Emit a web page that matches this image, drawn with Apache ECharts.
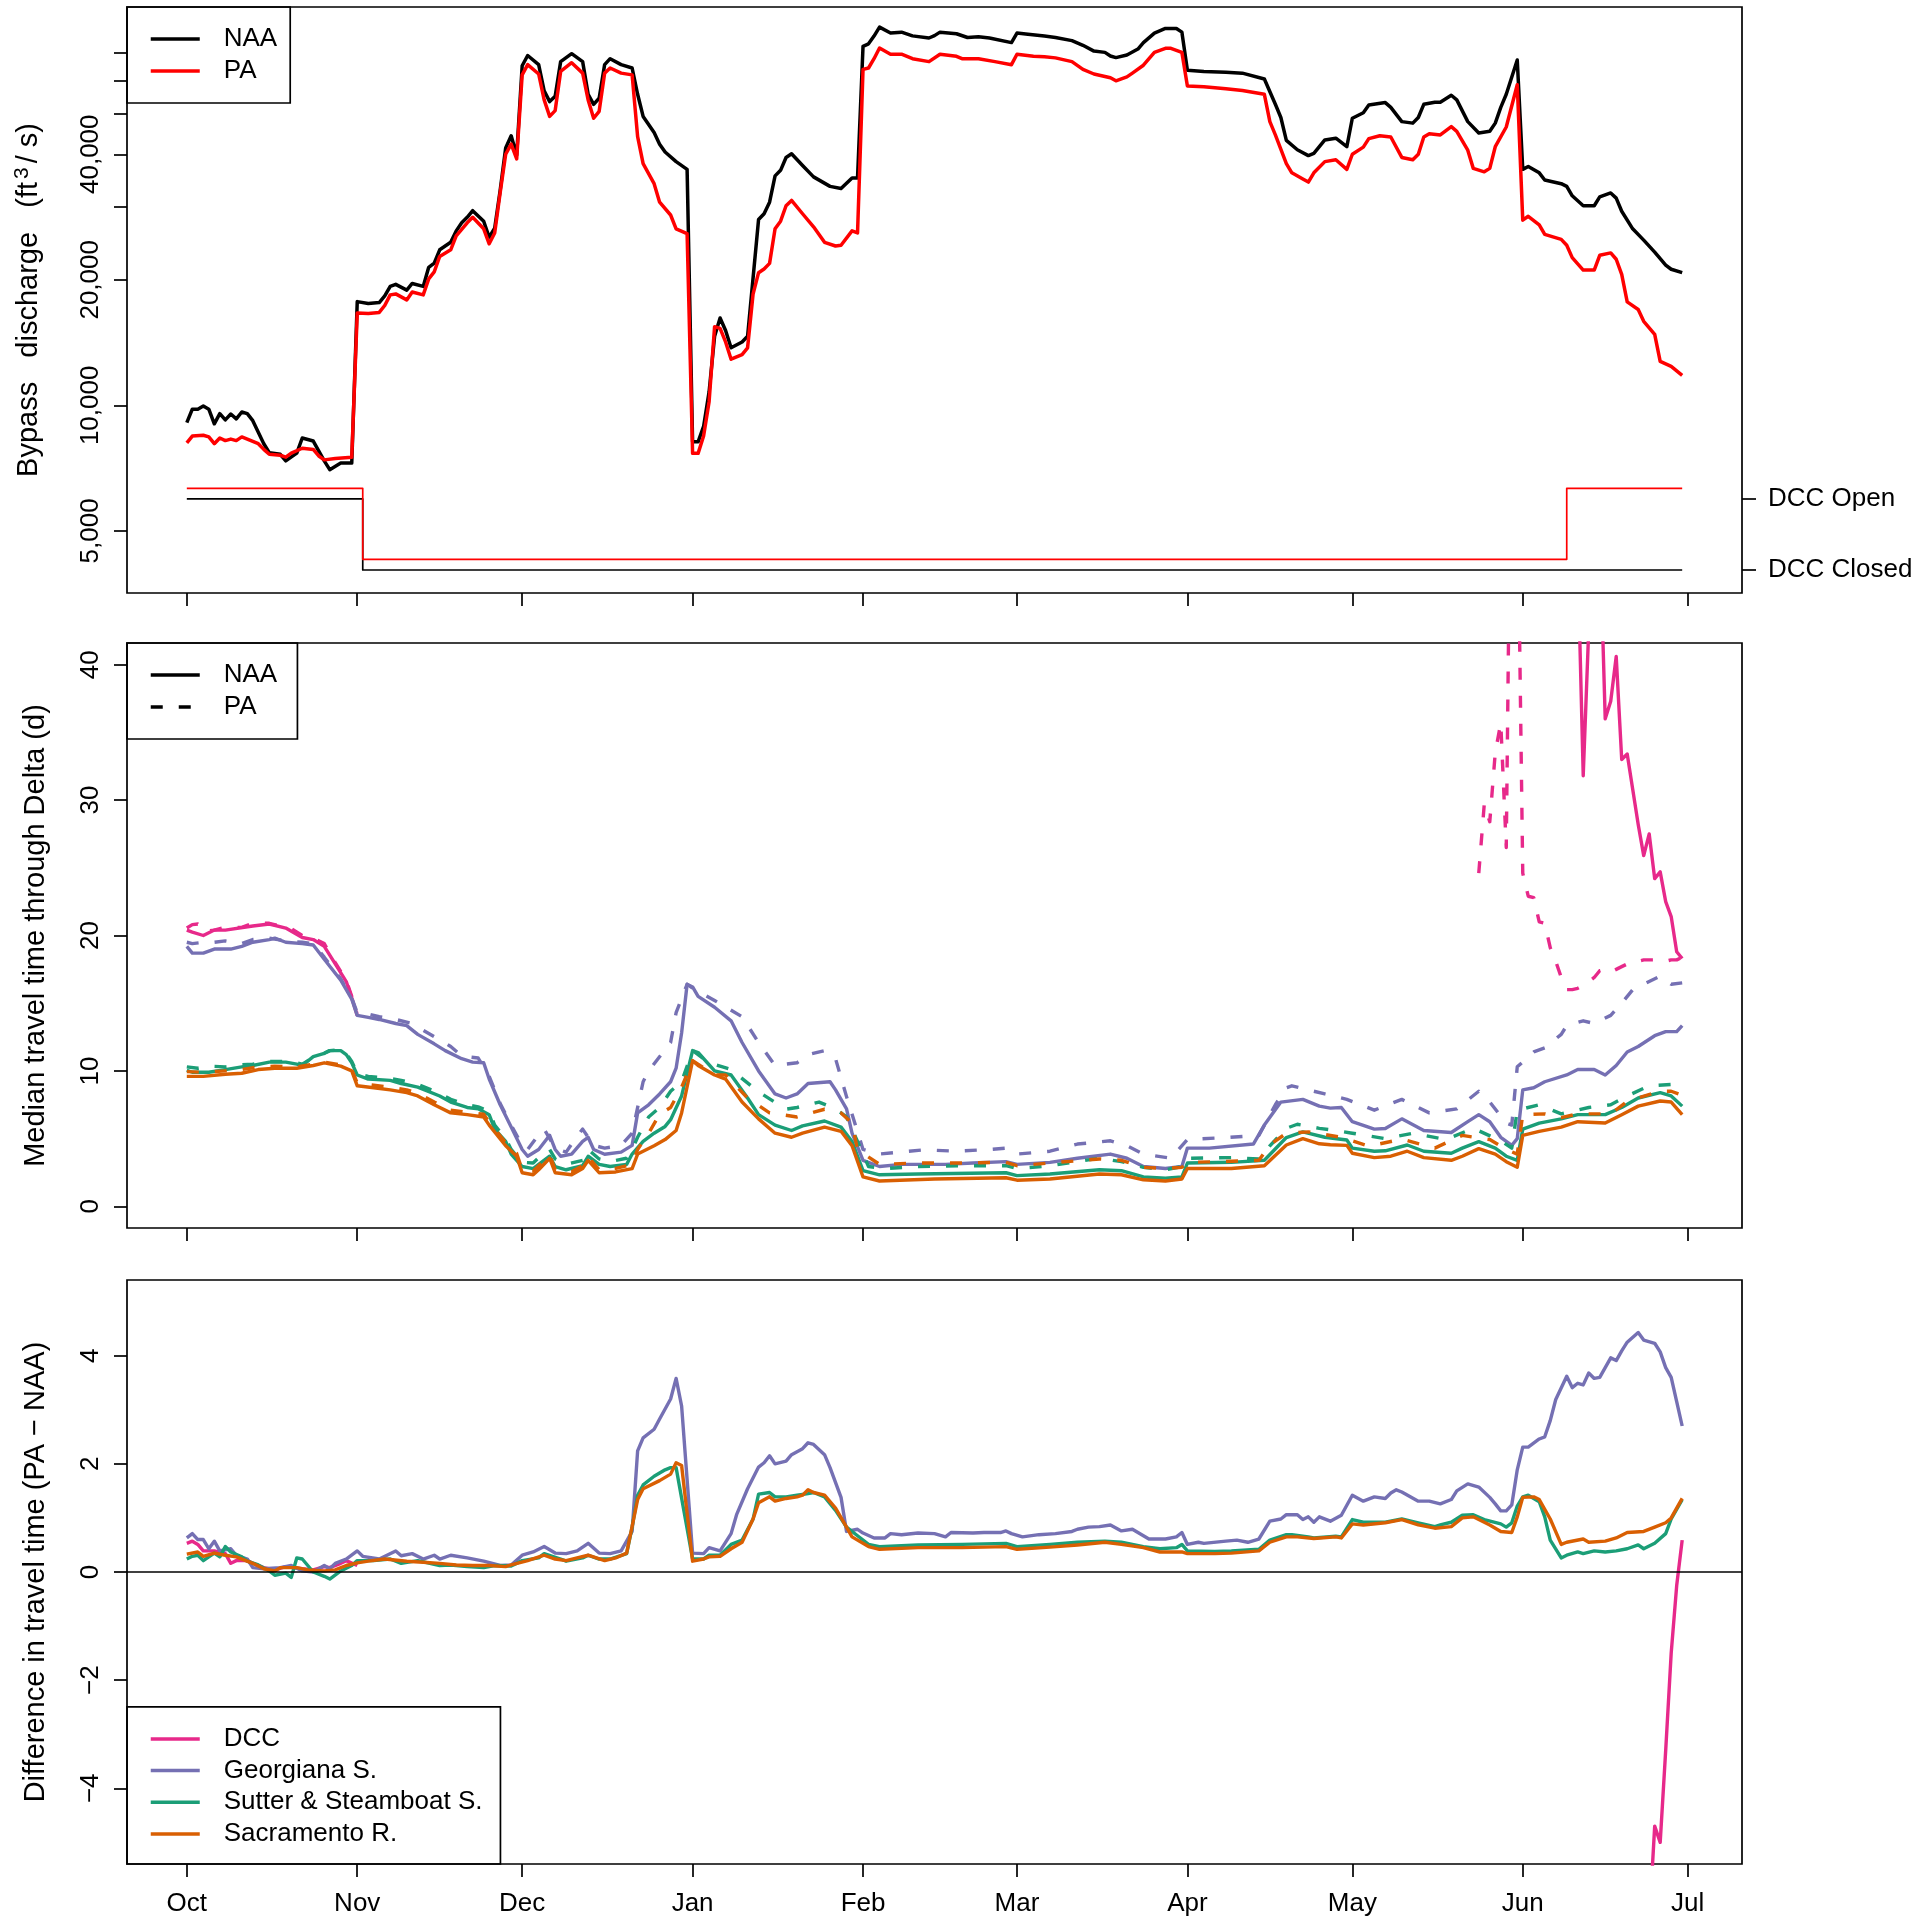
<!DOCTYPE html>
<html>
<head>
<meta charset="utf-8">
<script src="https://cdn.jsdelivr.net/npm/echarts@6/dist/echarts.min.js"></script>
<style>
html,body{margin:0;padding:0;background:#fff;}
#chart{width:1920px;height:1921px;}
</style>
</head>
<body>
<div id="chart"></div>
<script>
// ---------- axis ticks / labels ----------
const monthDays = [0, 31, 61, 92, 123, 151, 182, 212, 243, 273];
const monthLabels = ['Oct', 'Nov', 'Dec', 'Jan', 'Feb', 'Mar', 'Apr', 'May', 'Jun', 'Jul'];
const flowTicks = [5000, 10000, 20000, 30000, 40000, 50000, 60000, 70000];
const flowTickLabels = [5000, 10000, 20000, 40000];
const dccTicks = [0, 1];
const dccTickLabels = ['DCC Closed', 'DCC Open'];
const ttTicks = [0, 10, 20, 30, 40];
const diffTicks = [-4, -2, 0, 2, 4];

// ---------- panel 1: bypass discharge (day since Oct 1, ft3/s) ----------
const flowNAA = [[0,9090],[1,9790],[2,9790],[3,9960],[4,9790],[5,9030],[6,9550],[7,9230],[8,9530],[9,9280],[10,9640],[11,9550],[12,9190],[13,8620],[14,8090],[15,7700],[17,7630],[18,7360],[20,7680],[21,8350],[23,8210],[25,7360],[26,7010],[28,7270],[30,7270],[31,17730],[33,17540],[35,17640],[36,18290],[37,19280],[38,19500],[40,18890],[41,19600],[43,19280],[44,21430],[45,21920],[46,23600],[48,24600],[49,26200],[50,27400],[51,28240],[52,29290],[54,27640],[55,25300],[56,26600],[57,32800],[58,41400],[59,44300],[60,39800],[61,65200],[62,69000],[64,65600],[65,56800],[66,53500],[67,55100],[68,66700],[70,69700],[72,66700],[73,55700],[74,52700],[75,54500],[76,65600],[77,67800],[79,65600],[81,64400],[82,55700],[83,49300],[85,45100],[86,42300],[87,40500],[89,38400],[91,36800],[92,8175],[93,8175],[94,8900],[95,10770],[96,14640],[97,16200],[98,15110],[99,13740],[101,14190],[102,14640],[104,27900],[105,28800],[106,30700],[107,35500],[108,36600],[109,39300],[110,40100],[112,37600],[114,35300],[117,33500],[119,33100],[121,35100],[122,35100],[123,72600],[124,73600],[125,76800],[126,80700],[128,78100],[130,78500],[132,76900],[135,76000],[136,77000],[137,78500],[140,77800],[142,76200],[144,76500],[146,76000],[150,74100],[151,78100],[153,77600],[156,76800],[158,76200],[161,74900],[163,73000],[165,70700],[167,70200],[168,68800],[169,68200],[171,69200],[173,71500],[174,74100],[176,78100],[178,80100],[180,80100],[181,78500],[182,63600],[185,63200],[189,62900],[192,62600],[196,60600],[198,52700],[199,49000],[200,43200],[202,41000],[204,39700],[205,40200],[207,43300],[209,43700],[211,41700],[212,48800],[214,50300],[215,52500],[218,53200],[219,51800],[221,47900],[223,47500],[224,49000],[225,52700],[227,53300],[228,53300],[230,55400],[231,54000],[233,47900],[235,45000],[237,45400],[238,47500],[239,51800],[240,55700],[242,67300],[243,36800],[244,37400],[246,36100],[247,34700],[250,34000],[251,33500],[252,31800],[254,30100],[256,30100],[257,31600],[259,32300],[260,31400],[261,29200],[263,26500],[265,24900],[267,23300],[269,21700],[270,21200],[272,20800]];
const flowPA = [[0,8125],[1,8440],[3,8475],[4,8400],[5,8090],[6,8350],[7,8230],[8,8300],[9,8230],[10,8400],[11,8300],[13,8090],[14,7840],[15,7630],[17,7590],[18,7510],[19,7680],[21,7890],[23,7840],[24,7560],[25,7400],[27,7460],[30,7510],[31,16640],[33,16600],[35,16700],[36,17350],[37,18400],[38,18500],[40,17900],[41,18700],[43,18400],[44,20100],[45,20900],[46,22750],[48,23600],[49,25500],[51,27400],[52,28240],[54,26500],[55,24400],[56,25900],[57,32400],[58,40000],[59,42300],[60,39000],[61,62000],[62,65600],[64,62300],[65,54000],[66,49300],[67,50900],[68,63200],[70,66300],[72,62600],[73,54000],[74,48800],[75,50700],[76,62600],[77,64400],[79,62600],[81,62000],[82,44100],[83,38000],[85,34000],[86,30700],[88,28600],[89,26500],[91,25800],[92,7670],[93,7670],[94,8440],[95,10200],[96,15440],[97,15290],[98,14190],[99,12900],[101,13230],[102,13740],[103,18490],[104,20800],[105,21230],[106,21900],[107,26500],[108,27640],[109,30100],[110,31000],[112,28800],[114,26800],[116,24600],[118,24100],[119,24200],[121,26200],[122,25900],[123,63900],[124,64400],[125,67800],[126,71900],[128,69500],[130,69500],[132,67800],[135,66700],[137,69500],[140,68700],[141,67800],[144,67800],[147,66700],[150,65600],[151,69500],[154,68700],[156,68500],[158,68100],[161,66700],[163,63900],[165,62300],[168,61000],[169,60000],[171,61300],[172,62600],[174,65400],[176,70200],[178,71800],[179,71800],[181,70200],[182,58300],[185,58100],[189,57400],[192,56900],[196,55700],[197,47900],[198,44500],[200,38000],[201,36100],[203,34900],[204,34300],[205,36100],[207,38400],[209,38800],[211,36800],[212,40000],[214,41600],[215,43600],[217,44300],[219,44000],[221,39300],[223,38800],[224,40000],[225,44000],[226,44800],[228,44500],[230,46600],[231,45400],[233,40900],[234,37000],[236,36300],[237,37000],[238,41700],[240,46500],[242,58700],[243,27800],[244,28400],[246,27100],[247,25700],[250,25000],[251,24200],[252,22600],[254,21100],[256,21100],[257,22900],[259,23200],[260,22400],[261,20600],[262,17700],[264,16980],[265,15900],[267,14800],[268,12750],[270,12400],[272,11800]];
// DCC gate status (1 = open, 0 = closed), step changes
const dccNAA = [[0,1],[32,0],[272,0]];
const dccPA = [[0,1],[32,0],[251,1],[272,1]];

// ---------- panel 2: median travel time (d) ----------
const ttDccNaaOct = [[0,20.4],[1,20.25],[3,20.0],[5,20.4],[7,20.4],[12,20.7],[15,20.85],[18,20.55],[21,19.85],[23,19.7],[25,19.2],[27,17.9],[29,16.6],[30,15.4],[31,14.1]];
const ttDccNaaJun = [[253,48],[254,31.8],[255,42.6],[256,50],[257,49.9],[258,36.0],[259,37.3],[260,40.6],[261,33.0],[262,33.4],[263,30.8],[264,28.2],[265,25.9],[266,27.5],[267,24.2],[268,24.7],[269,22.5],[270,21.4],[271,18.8],[272,18.3]];
const ttDccPaOct = [[0,20.55],[1,20.8],[2,20.85],[3,20.3],[5,20.4],[7,20.6],[10,20.6],[12,20.9],[15,20.9],[17,20.7],[19,20.5],[21,20.0],[23,19.8],[25,19.4],[27,18.0],[29,16.7],[31,14.3]];
const ttDccPaJun = [[235,24.6],[236,29.7],[237,28.4],[238,33.5],[239,35.7],[240,26.5],[241,64],[242,55],[243,24.6],[244,22.9],[245,22.8],[246,21.0],[247,20.9],[248,19.1],[249,18.1],[250,16.9],[251,16.0],[252,16.0],[253,16.1],[254,16.3],[255,16.6],[256,16.9],[257,17.4],[258,17.5],[259,17.3],[260,17.5],[261,17.7],[262,17.9],[263,18.1],[264,18.1],[265,18.2],[266,18.2],[267,18.2],[268,18.1],[269,18.1],[270,18.2],[271,18.2],[272,18.4]];
const ttGeoNaa = [[0,19.2],[1,18.7],[3,18.7],[5,19.0],[8,19.0],[10,19.2],[12,19.5],[15,19.7],[16,19.8],[18,19.5],[21,19.4],[23,19.3],[25,18.25],[28,16.7],[30,15.3],[31,14.1],[33,13.95],[35,13.8],[38,13.5],[40,13.35],[42,12.7],[45,12.0],[47,11.5],[50,10.9],[52,10.65],[54,10.6],[55,9.4],[57,7.5],[59,5.85],[61,4.2],[62,3.7],[64,4.2],[66,5.25],[67,4.2],[68,3.7],[70,3.85],[72,4.8],[73,5.1],[74,4.2],[76,3.85],[79,4.0],[81,4.5],[82,6.9],[84,7.5],[86,8.3],[88,9.2],[89,10.2],[90,12.8],[91,16.4],[92,16.2],[93,15.5],[96,14.7],[99,13.7],[101,12.1],[104,10.0],[107,8.3],[109,8.0],[111,8.3],[113,9.07],[117,9.2],[118,8.6],[120,7.2],[121,5.4],[123,3.4],[126,2.94],[130,3.1],[138,3.1],[143,3.2],[149,3.3],[151,3.1],[157,3.25],[162,3.55],[168,3.86],[171,3.55],[174,2.94],[178,2.79],[181,2.94],[182,4.3],[186,4.3],[194,4.6],[196,6.0],[199,7.7],[203,7.9],[206,7.4],[208,7.25],[210,7.3],[212,6.25],[216,5.7],[218,5.75],[221,6.46],[225,5.6],[230,5.45],[233,6.25],[235,6.77],[237,6.25],[239,5.1],[241,4.5],[242,5.0],[243,8.6],[245,8.76],[247,9.2],[251,9.7],[253,10.1],[256,10.1],[258,9.7],[260,10.4],[262,11.4],[264,11.8],[267,12.6],[269,12.9],[271,12.9],[272,13.35]];
const ttGeoPa = [[0,19.5],[1,19.4],[3,19.5],[5,19.5],[7,19.6],[10,19.4],[12,19.7],[15,19.8],[18,19.6],[21,19.5],[23,19.4],[25,18.4],[28,16.8],[30,15.4],[31,14.3],[33,14.2],[35,14.0],[38,13.8],[41,13.5],[43,13.0],[46,12.3],[48,11.8],[50,11.1],[53,10.95],[55,9.6],[57,7.6],[59,6.0],[61,4.5],[62,4.2],[64,5.3],[65,5.7],[67,4.3],[69,4.0],[71,5.2],[72,5.7],[74,4.5],[76,4.3],[79,4.5],[81,5.4],[83,9.2],[84,10.0],[88,12.1],[89,14.3],[91,16.4],[92,16.1],[96,15.2],[101,14.0],[104,12.1],[107,10.4],[111,10.6],[113,11.2],[116,11.5],[118,10.9],[120,8.1],[123,4.2],[126,3.86],[134,4.17],[140,4.07],[146,4.2],[149,4.3],[151,3.86],[157,4.07],[162,4.6],[168,4.84],[171,4.47],[174,3.86],[179,3.55],[182,4.93],[189,5.08],[195,5.24],[198,7.5],[200,8.76],[201,8.9],[204,8.6],[207,8.3],[211,7.9],[216,7.1],[221,7.9],[226,6.9],[231,7.2],[235,8.5],[237,7.7],[240,6.15],[241,6.0],[242,10.3],[245,11.4],[247,11.7],[250,12.7],[251,13.35],[254,13.7],[256,13.5],[259,14.1],[261,15.0],[263,16.0],[265,16.4],[268,17.0],[270,16.4],[272,16.5]];
const ttSutNaa = [[0,10.05],[1,9.9],[4,9.9],[7,10.1],[10,10.3],[12,10.4],[15,10.65],[18,10.65],[20,10.5],[21,10.4],[23,11.05],[25,11.3],[26,11.5],[28,11.5],[29,11.2],[30,10.6],[31,9.7],[33,9.4],[37,9.3],[39,9.07],[42,8.8],[46,8.15],[48,7.7],[51,7.3],[53,7.2],[55,6.77],[56,5.7],[58,4.8],[59,3.86],[61,2.94],[63,2.79],[64,3.1],[66,3.7],[67,2.94],[69,2.7],[72,3.0],[73,3.7],[75,3.1],[77,2.94],[80,3.1],[81,3.86],[83,4.8],[85,5.4],[87,5.9],[88,6.4],[90,8.15],[92,11.5],[93,11.36],[96,10.0],[99,9.7],[102,8.0],[104,6.77],[107,6.0],[110,5.6],[112,5.94],[116,6.3],[119,5.85],[121,4.78],[123,2.63],[126,2.33],[133,2.39],[149,2.48],[151,2.27],[157,2.39],[166,2.7],[170,2.63],[174,2.17],[178,2.08],[181,2.17],[182,3.2],[190,3.25],[196,3.4],[200,5.08],[203,5.5],[207,5.1],[211,4.9],[212,4.3],[216,4.07],[218,4.1],[222,4.53],[225,4.07],[230,3.92],[232,4.3],[235,4.78],[238,4.3],[240,3.7],[242,3.4],[243,5.7],[246,6.15],[250,6.46],[253,6.77],[258,6.77],[261,7.3],[264,8.0],[268,8.4],[270,8.15],[272,7.4]];
const ttSutPa = [[0,10.3],[2,10.2],[4,10.35],[7,10.3],[10,10.45],[12,10.5],[15,10.7],[18,10.7],[20,10.6],[21,10.5],[23,11.0],[25,11.3],[26,11.5],[28,11.55],[29,11.3],[30,10.7],[31,9.8],[33,9.6],[37,9.45],[39,9.3],[42,9.0],[46,8.35],[48,7.9],[51,7.5],[53,7.35],[55,7.0],[56,6.0],[58,5.0],[59,4.2],[61,3.25],[63,3.2],[65,4.0],[66,4.2],[67,3.5],[69,3.1],[72,3.4],[73,4.2],[75,3.5],[77,3.3],[80,3.55],[81,4.2],[82,5.1],[84,6.6],[86,7.3],[88,8.5],[90,9.2],[92,11.5],[95,10.6],[99,10.1],[104,8.45],[109,7.17],[111,7.3],[115,7.7],[118,7.2],[120,6.6],[122,4.8],[124,2.94],[127,2.79],[133,2.94],[141,3.0],[149,3.0],[151,2.79],[157,3.0],[166,3.55],[170,3.3],[174,2.88],[178,2.7],[181,2.94],[182,3.55],[190,3.6],[195,3.5],[197,4.47],[200,5.76],[202,6.06],[206,5.76],[209,5.6],[212,5.4],[218,5.0],[223,5.4],[229,4.93],[234,5.76],[239,4.84],[241,4.3],[242,7.1],[246,7.5],[250,6.83],[255,7.3],[259,7.5],[262,8.15],[266,8.9],[270,9.0],[272,8.7]];
const ttSacNaa = [[0,9.6],[3,9.6],[7,9.75],[10,9.83],[13,10.1],[16,10.2],[20,10.2],[23,10.4],[25,10.6],[28,10.35],[30,10.0],[31,8.9],[34,8.76],[37,8.6],[40,8.4],[42,8.15],[45,7.5],[48,6.9],[51,6.77],[54,6.6],[55,6.0],[58,4.47],[60,3.7],[61,2.48],[63,2.33],[64,2.7],[66,3.55],[67,2.48],[70,2.33],[72,2.79],[73,3.4],[75,2.48],[78,2.54],[81,2.79],[82,3.86],[85,4.47],[87,4.93],[89,5.6],[90,6.9],[92,10.75],[93,10.4],[96,9.7],[98,9.4],[101,7.7],[104,6.46],[107,5.4],[110,5.1],[112,5.4],[116,5.85],[119,5.54],[121,4.47],[123,2.17],[126,1.87],[136,2.02],[149,2.11],[151,1.93],[157,2.02],[166,2.39],[170,2.33],[174,1.96],[178,1.87],[181,2.02],[182,2.79],[190,2.79],[196,3.0],[200,4.53],[203,5.0],[206,4.62],[208,4.55],[211,4.5],[212,3.92],[216,3.6],[219,3.7],[222,4.07],[225,3.6],[230,3.4],[232,3.7],[235,4.26],[238,3.86],[240,3.3],[242,2.88],[243,5.24],[246,5.54],[250,5.85],[253,6.25],[258,6.15],[261,6.77],[264,7.4],[268,7.78],[270,7.7],[272,6.77]];
const ttSacPa = [[0,9.95],[3,9.9],[7,10.0],[10,10.1],[13,10.3],[16,10.35],[20,10.3],[23,10.5],[25,10.65],[28,10.45],[30,10.1],[31,9.1],[34,8.95],[37,8.8],[40,8.6],[42,8.35],[45,7.7],[48,7.1],[51,6.95],[54,6.8],[55,6.2],[58,4.7],[60,3.9],[61,2.7],[63,2.6],[64,3.0],[66,3.8],[67,2.7],[70,2.55],[72,3.0],[73,3.65],[75,2.7],[78,2.8],[81,3.1],[82,4.2],[84,5.4],[86,6.8],[88,7.3],[90,8.8],[92,10.75],[96,9.7],[98,9.7],[102,8.0],[106,6.9],[111,6.6],[116,7.17],[119,6.9],[121,6.15],[122,4.17],[126,3.1],[133,3.2],[141,3.2],[149,3.25],[151,3.0],[157,3.2],[166,3.5],[170,3.4],[174,2.88],[178,2.79],[181,2.88],[182,3.25],[188,3.3],[195,3.4],[197,4.53],[200,5.4],[204,5.5],[210,5.1],[215,4.44],[221,4.96],[227,4.3],[232,5.24],[237,4.93],[240,4.2],[242,3.86],[243,6.77],[247,6.83],[250,6.55],[253,6.83],[259,6.83],[262,7.75],[268,8.5],[270,8.5],[272,8.2]];

// ---------- panel 3: difference PA - NAA (d) ----------
const diffDccOct = [[0,0.53],[1,0.57],[2,0.51],[3,0.39],[5,0.39],[7,0.34],[8,0.16],[9,0.21],[11,0.21],[12,0.16],[14,0.08],[16,0.04],[18,0.1],[21,0.06],[23,0.04],[25,0.1],[26,0.08],[28,0.16],[29,0.21],[31,0.12]];
const diffDccJun = [[266,-6.5],[267,-4.7],[268,-5.0],[269,-3.3],[270,-1.5],[271,-0.25],[272,0.59]];
const diffGeo = [[0,0.63],[1,0.71],[2,0.6],[3,0.6],[4,0.43],[5,0.57],[6,0.39],[8,0.43],[9,0.31],[11,0.24],[12,0.08],[14,0.06],[17,0.08],[19,0.12],[21,0.02],[23,0.0],[25,0.12],[26,0.06],[27,0.16],[29,0.24],[31,0.39],[32,0.29],[35,0.24],[38,0.39],[39,0.3],[41,0.34],[43,0.24],[45,0.31],[46,0.24],[48,0.31],[51,0.26],[54,0.2],[57,0.12],[59,0.13],[61,0.31],[63,0.37],[65,0.47],[67,0.35],[69,0.34],[71,0.39],[73,0.53],[75,0.35],[77,0.34],[79,0.39],[81,0.75],[82,2.24],[83,2.48],[85,2.64],[86,2.83],[88,3.2],[89,3.58],[90,3.07],[92,0.35],[94,0.34],[95,0.45],[97,0.39],[99,0.71],[100,1.06],[102,1.54],[104,1.94],[105,2.02],[106,2.15],[107,2.0],[109,2.05],[110,2.17],[112,2.28],[113,2.39],[114,2.36],[116,2.17],[117,1.93],[119,1.38],[120,0.75],[122,0.79],[123,0.72],[125,0.63],[127,0.63],[128,0.71],[130,0.69],[133,0.72],[136,0.71],[138,0.65],[139,0.73],[143,0.72],[145,0.73],[148,0.73],[149,0.76],[150,0.71],[152,0.65],[155,0.69],[158,0.71],[161,0.75],[162,0.79],[164,0.83],[166,0.84],[168,0.87],[170,0.76],[172,0.79],[174,0.67],[175,0.61],[178,0.61],[180,0.65],[181,0.73],[182,0.51],[184,0.55],[185,0.53],[189,0.57],[191,0.59],[193,0.55],[195,0.61],[197,0.94],[199,0.98],[200,1.06],[202,1.06],[203,0.97],[204,1.02],[205,0.92],[206,1.02],[208,0.94],[210,1.05],[212,1.42],[214,1.31],[216,1.39],[218,1.36],[219,1.46],[220,1.52],[221,1.48],[224,1.31],[226,1.31],[228,1.26],[230,1.34],[231,1.5],[233,1.63],[235,1.57],[237,1.38],[238,1.26],[239,1.13],[240,1.13],[241,1.24],[242,1.89],[243,2.31],[244,2.31],[246,2.46],[247,2.5],[248,2.8],[249,3.19],[251,3.62],[252,3.41],[253,3.49],[254,3.46],[255,3.68],[256,3.58],[257,3.6],[259,3.96],[260,3.91],[261,4.09],[262,4.25],[264,4.43],[265,4.29],[267,4.23],[268,4.07],[269,3.78],[270,3.6],[271,3.15],[272,2.7]];
const diffSut = [[0,0.24],[1,0.29],[2,0.31],[3,0.21],[5,0.35],[6,0.28],[7,0.47],[8,0.37],[10,0.28],[11,0.2],[13,0.13],[15,0.02],[16,-0.06],[18,-0.02],[19,-0.1],[20,0.26],[21,0.24],[23,0.0],[25,-0.08],[26,-0.13],[28,0.02],[30,0.12],[31,0.21],[34,0.21],[37,0.24],[39,0.16],[42,0.21],[46,0.12],[48,0.13],[51,0.1],[54,0.08],[56,0.12],[59,0.11],[61,0.21],[64,0.26],[65,0.34],[68,0.24],[69,0.2],[72,0.26],[73,0.31],[75,0.24],[77,0.24],[80,0.34],[81,0.83],[82,1.42],[83,1.61],[85,1.77],[87,1.89],[88,1.93],[89,1.93],[92,0.24],[94,0.24],[95,0.31],[97,0.31],[99,0.51],[101,0.59],[103,0.98],[104,1.44],[106,1.47],[107,1.39],[109,1.39],[111,1.42],[113,1.45],[114,1.47],[116,1.39],[118,1.14],[120,0.83],[122,0.67],[124,0.51],[126,0.47],[133,0.5],[141,0.51],[149,0.53],[151,0.47],[157,0.51],[162,0.55],[167,0.57],[170,0.55],[174,0.47],[177,0.43],[180,0.45],[181,0.51],[182,0.39],[187,0.38],[190,0.39],[195,0.42],[197,0.59],[200,0.69],[201,0.69],[204,0.65],[205,0.63],[209,0.66],[210,0.65],[212,0.97],[214,0.92],[218,0.92],[221,0.98],[224,0.91],[227,0.84],[228,0.87],[230,0.92],[232,1.05],[234,1.06],[236,0.97],[239,0.89],[240,0.83],[241,0.91],[242,1.22],[243,1.39],[244,1.42],[246,1.3],[247,1.02],[248,0.59],[250,0.26],[251,0.31],[253,0.37],[254,0.34],[256,0.39],[258,0.37],[260,0.39],[262,0.43],[264,0.5],[265,0.43],[267,0.53],[269,0.71],[270,0.98],[272,1.34]];
const diffSac = [[0,0.33],[2,0.37],[3,0.29],[5,0.35],[7,0.31],[9,0.28],[12,0.16],[14,0.06],[16,0.02],[17,0.08],[20,0.08],[22,0.04],[25,0.02],[27,0.04],[29,0.12],[31,0.17],[33,0.2],[36,0.24],[40,0.2],[43,0.18],[46,0.16],[49,0.13],[52,0.12],[55,0.12],[58,0.1],[59,0.13],[62,0.21],[65,0.31],[67,0.24],[69,0.21],[71,0.26],[73,0.31],[76,0.21],[78,0.26],[80,0.35],[82,1.34],[83,1.54],[86,1.69],[88,1.81],[89,2.02],[90,1.97],[92,0.2],[94,0.24],[95,0.28],[97,0.29],[99,0.43],[101,0.55],[103,0.98],[104,1.28],[106,1.39],[107,1.31],[109,1.36],[111,1.39],[112,1.42],[113,1.52],[114,1.47],[116,1.42],[118,1.18],[120,0.83],[121,0.65],[124,0.47],[126,0.42],[133,0.45],[141,0.45],[149,0.47],[151,0.42],[157,0.46],[162,0.5],[167,0.55],[170,0.51],[174,0.45],[177,0.37],[181,0.37],[182,0.34],[187,0.34],[190,0.35],[195,0.39],[197,0.55],[200,0.65],[202,0.65],[205,0.62],[209,0.65],[210,0.63],[212,0.89],[214,0.87],[218,0.91],[221,0.97],[224,0.87],[227,0.81],[230,0.84],[232,1.0],[234,1.02],[237,0.87],[239,0.75],[241,0.73],[242,1.02],[243,1.38],[245,1.39],[246,1.34],[248,0.98],[250,0.51],[251,0.55],[254,0.61],[255,0.55],[258,0.57],[260,0.63],[262,0.73],[265,0.75],[267,0.83],[269,0.91],[270,1.0],[272,1.36]];

// ---------- styling ----------
const FONT = "'Liberation Sans', Arial, Helvetica, sans-serif";
const C_DCC = '#E7298A', C_GEO = '#7570B3', C_SUT = '#1B9E77', C_SAC = '#D95F02';
const LW = 3.4;
const DASH = [12, 16];
const PA_STEP_OFFSET = 0.15;   // visual separation of PA status line
const GAP = [[150, null]];     // break between Oct and Jun segments
const X_MIN = -10.88, X_MAX = 282.88;
const TICK_LEN = 13, FRAME = 1.7;
const TXT = 26, TITLE = 29;

function xAxis(gi, showLabels) {
  return {
    type: 'value', gridIndex: gi, min: X_MIN, max: X_MAX, position: 'bottom',
    axisLine: { show: false, onZero: false },
    splitLine: { show: false },
    axisTick: { show: true, inside: false, length: TICK_LEN, customValues: monthDays, lineStyle: { color: '#000', width: FRAME } },
    axisLabel: {
      show: showLabels, customValues: monthDays, margin: 27,
      color: '#000', fontSize: TXT, fontFamily: FONT,
      formatter: v => monthLabels[monthDays.indexOf(Math.round(v))] || ''
    }
  };
}
function yTitle(text, gap, rich) {
  return { name: text, nameLocation: 'middle', nameRotate: 90, nameGap: gap,
    nameTextStyle: { color: '#000', fontSize: TITLE, fontFamily: FONT, rich: rich } };
}
function line(name, data, color, xi, yi, dashed, width) {
  return {
    type: 'line', name, data, xAxisIndex: xi, yAxisIndex: yi,
    showSymbol: false, symbol: 'none', clip: true, animation: false,
    silent: true, connectNulls: false,
    lineStyle: { color, width: width || LW, type: dashed ? DASH : 'solid', cap: 'butt', join: 'round' },
    itemStyle: { color }
  };
}
const legendBase = {
  orient: 'vertical', left: 127, selectedMode: false,
  borderColor: '#000', borderWidth: FRAME, borderRadius: 0,
  itemWidth: 49, itemHeight: 14, itemGap: 6,
  itemStyle: { opacity: 0 },
  lineStyle: { width: 3.5 },
  textStyle: { color: '#000', fontSize: TXT, fontFamily: FONT, padding: [0, 0, 0, 19] }
};
const titleRich = {
  t: { fontSize: TITLE, fontFamily: FONT, color: '#000' },
  sup: { fontSize: 21, fontFamily: FONT, color: '#000', padding: [0, 4, 12, 3] }
};

const option = {
  animation: false,
  backgroundColor: '#fff',
  grid: [
    { left: 127, right: 178, top: 7, height: 586, show: true, borderColor: '#000', borderWidth: FRAME, backgroundColor: 'transparent' },
    { left: 127, right: 178, top: 643, height: 585, show: true, borderColor: '#000', borderWidth: FRAME, backgroundColor: 'transparent' },
    { left: 127, right: 178, top: 1280, height: 584, show: true, borderColor: '#000', borderWidth: FRAME, backgroundColor: 'transparent' }
  ],
  xAxis: [xAxis(0, false), xAxis(1, false), xAxis(2, true)],
  yAxis: [
    Object.assign({
      type: 'log', logBase: 10, gridIndex: 0, min: 3548, max: 90190, position: 'left',
      axisLine: { show: false, onZero: false }, splitLine: { show: false },
      axisTick: { show: true, length: TICK_LEN, customValues: flowTicks, lineStyle: { color: '#000', width: FRAME } },
      axisLabel: { customValues: flowTickLabels, rotate: 90, margin: 23, color: '#000', fontSize: TXT, fontFamily: FONT,
        formatter: v => Math.round(v).toLocaleString('en-US') }
    }, yTitle('{t|Bypass   discharge   (ft}{sup|3}{t|/ s)}', 82, titleRich)),
    {
      type: 'value', gridIndex: 0, position: 'right', min: -0.324, max: 7.925,
      axisLine: { show: false, onZero: false }, splitLine: { show: false },
      axisTick: { show: true, length: 14, customValues: dccTicks, lineStyle: { color: '#000', width: FRAME } },
      axisLabel: { customValues: dccTicks, margin: 26, color: '#000', fontSize: TXT, fontFamily: FONT,
        formatter: v => dccTickLabels[dccTicks.indexOf(Math.round(v))] || '' }
    },
    Object.assign({
      type: 'value', gridIndex: 1, min: -1.6, max: 41.6, position: 'left',
      axisLine: { show: false, onZero: false }, splitLine: { show: false },
      axisTick: { show: true, length: TICK_LEN, customValues: ttTicks, lineStyle: { color: '#000', width: FRAME } },
      axisLabel: { customValues: ttTicks, rotate: 90, margin: 23, color: '#000', fontSize: TXT, fontFamily: FONT }
    }, yTitle('Median travel time through Delta (d)', 77)),
    Object.assign({
      type: 'value', gridIndex: 2, min: -5.4, max: 5.4, position: 'left',
      axisLine: { show: false, onZero: false }, splitLine: { show: false },
      axisTick: { show: true, length: TICK_LEN, customValues: diffTicks, lineStyle: { color: '#000', width: FRAME } },
      axisLabel: { customValues: diffTicks, rotate: 90, margin: 23, color: '#000', fontSize: TXT, fontFamily: FONT,
        formatter: v => String(Math.round(v)).replace('-', '\u2212') }
    }, yTitle('Difference in travel time (PA \u2212 NAA)', 77))
  ],
  legend: [
    Object.assign({}, legendBase, { top: 7, padding: [19, 13, 19, 22], data: ['NAA', 'PA'] }),
    Object.assign({}, legendBase, { top: 643, padding: [19, 13, 19, 22], data: ['NAA ', 'PA '] }),
    Object.assign({}, legendBase, { bottom: 57, padding: [19, 18, 17, 22], itemGap: 5.7,
      data: ['DCC', 'Georgiana S.', 'Sutter & Steamboat S.', 'Sacramento R.'] })
  ],
  series: [
    // panel 1
    line('NAA', flowNAA, '#000', 0, 0, false, 3.5),
    line('PA', flowPA, '#FF0000', 0, 0, false, 3.5),
    Object.assign(line('DCC NAA status', dccNAA, '#000', 0, 1, false, FRAME), { step: 'end' }),
    Object.assign(line('DCC PA status', dccPA.map(p => [p[0], p[1] + PA_STEP_OFFSET]), '#FF0000', 0, 1, false, FRAME), { step: 'end' }),
    // panel 2
    line('DCC NAA', ttDccNaaOct.concat(GAP, ttDccNaaJun), C_DCC, 1, 2, false),
    line('DCC PA', ttDccPaOct.concat(GAP, ttDccPaJun), C_DCC, 1, 2, true),
    line('Georgiana NAA', ttGeoNaa, C_GEO, 1, 2, false),
    line('Georgiana PA', ttGeoPa, C_GEO, 1, 2, true),
    line('Sutter NAA', ttSutNaa, C_SUT, 1, 2, false),
    line('Sutter PA', ttSutPa, C_SUT, 1, 2, true),
    line('Sacramento NAA', ttSacNaa, C_SAC, 1, 2, false),
    line('Sacramento PA', ttSacPa, C_SAC, 1, 2, true),
    line('NAA ', [], '#000', 1, 2, false, 3.5),
    line('PA ', [], '#000', 1, 2, true, 3.5),
    // panel 3
    Object.assign(line('DCC', diffDccOct.concat(GAP, diffDccJun), C_DCC, 2, 3, false), {
      markLine: { silent: true, symbol: 'none', animation: false, label: { show: false },
        lineStyle: { color: '#000', width: 1.5, type: 'solid' }, data: [{ yAxis: 0 }] }
    }),
    line('Georgiana S.', diffGeo, C_GEO, 2, 3, false),
    line('Sutter & Steamboat S.', diffSut, C_SUT, 2, 3, false),
    line('Sacramento R.', diffSac, C_SAC, 2, 3, false)
  ]
};

const chart = echarts.init(document.getElementById('chart'), null, { renderer: 'canvas' });
chart.setOption(option);
</script>
</body>
</html>
